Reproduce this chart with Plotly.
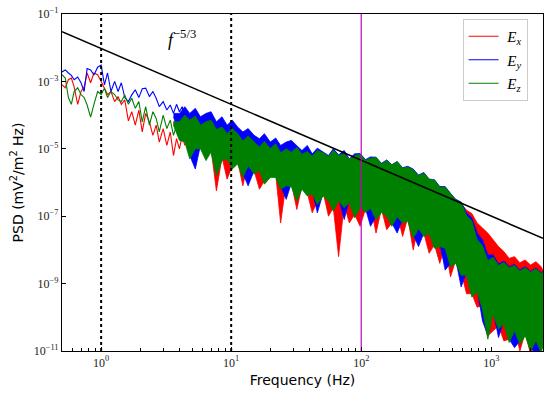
import numpy as np
import plotly.graph_objects as go

# ---------------- data ----------------
series_names = ["<i>E</i><sub><i>x</i></sub>", "<i>E</i><sub><i>y</i></sub>", "<i>E</i><sub><i>z</i></sub>"]
series_colors = ["#ff0000", "#0000ff", "#008000"]

# low-frequency part, individual spectral points (Hz) and log10 PSD
freq_low = [0.50, 0.53, 0.56, 0.59, 0.62, 0.66, 0.70, 0.74, 0.78, 0.83, 0.88, 0.94, 1.0, 1.06,
            1.12, 1.19, 1.27, 1.35, 1.43, 1.52, 1.62, 1.72, 1.83, 1.95, 2.07, 2.2, 2.35, 2.5,
            2.65, 2.8, 3.0, 3.2, 3.4, 3.6, 3.8, 4.0, 4.2, 4.4]
ex_low_log10 = [-3.1, -3.19, -2.95, -2.9, -3.16, -3.68, -3.3, -3.16, -2.75, -3.04, -2.75, -2.8, -3.0,
                -3.19, -3.39, -3.3, -3.6, -3.45, -3.68, -3.55, -4.17, -3.9, -4.3, -3.85, -4.5, -3.95,
                -4.2, -4.6, -4.3, -4.8, -4.4, -4.9, -4.5, -5.2, -4.7, -5.0, -4.6, -4.9]
ey_low_log10 = [-2.72, -2.66, -2.75, -2.82, -2.95, -2.87, -3.04, -3.3, -2.62, -2.66, -2.81, -2.58, -2.52,
                -3.1, -2.75, -3.3, -3.0, -3.3, -3.04, -3.48, -3.6, -3.4, -3.25, -3.48, -3.22, -3.2,
                -3.45, -3.3, -3.5, -3.75, -3.6, -3.85, -3.7, -3.95, -3.68, -3.9, -3.75, -4.0]
ez_low_log10 = [-2.8, -2.9, -3.48, -3.68, -3.3, -3.19, -3.39, -3.48, -3.7, -4.06, -3.68, -3.3, -3.39,
                -3.2, -3.48, -3.3, -3.39, -3.55, -3.6, -3.4, -3.68, -3.5, -3.8, -3.6, -4.2, -3.75,
                -4.3, -3.9, -4.1, -4.5, -4.0, -4.4, -4.15, -4.6, -4.3, -4.5, -4.2, -4.7]

# dense part: upper / lower edges of the noisy band (Hz, log10 PSD)
freq_band = [3.6, 4, 4.4, 4.8, 5.3, 5.8, 6.4, 7, 7.7, 8.5, 9.3, 10.2, 11.2, 12.3, 13.5, 15, 16.5,
             18, 20, 22, 24, 26.5, 29, 32, 35, 38.5, 42, 46, 51, 56, 61, 67, 74, 81, 89, 98, 108,
             118, 130, 143, 157, 172, 189, 208, 228, 251, 276, 303, 333, 366, 402, 442, 486, 534,
             587, 645, 709, 779, 856, 941, 1034, 1137, 1250, 1374, 1510, 1660, 1825, 2006, 2205,
             2424, 2500]
ex_hi_log10 = [-4.2, -4.3, -4.15, -4.3, -4.2, -4.4, -4.3, -4.35, -4.55, -4.45, -4.65, -4.5, -4.65,
               -4.85, -4.75, -4.9, -5.0, -4.9, -5.1, -4.95, -5.2, -5.1, -5.2, -5.1, -5.25, -5.18,
               -5.3, -5.15, -5.22, -5.32, -5.15, -5.3, -5.24, -5.4, -5.3, -5.26, -5.42, -5.36,
               -5.35, -5.52, -5.43, -5.56, -5.47, -5.65, -5.62, -5.7, -5.86, -5.8, -5.96, -6.0,
               -6.2, -6.2, -6.38, -6.55, -6.62, -6.82, -6.92, -7.2, -7.35, -7.5, -7.7, -7.9, -8.05,
               -8.25, -8.2, -8.38, -8.3, -8.45, -8.35, -8.5, -8.62]
ex_lo_log10 = [-4.25, -4.7, -4.7, -5.2, -4.9, -4.9, -5.25, -5.0, -6.25, -5.25, -5.9, -5.5, -5.35,
               -6.1, -5.4, -5.65, -6.2, -5.95, -5.75, -5.75, -7.2, -6.0, -6.02, -6.8, -6.1, -6.3,
               -6.9, -6.55, -6.3, -7.0, -6.75, -8.2, -6.65, -7.2, -6.95, -7.3, -6.78, -6.67, -7.5,
               -6.79, -7.4, -7.2, -6.92, -7.6, -7.05, -8.0, -7.27, -7.5, -8.1, -7.85, -8.4, -7.85,
               -8.8, -8.3, -8.65, -9.3, -9.3, -9.7, -9.65, -10.55, -10.4, -10.25, -10.7, -10.65,
               -10.3, -11.0, -10.45, -11.1, -10.6, -10.95, -10.75]
ey_hi_log10 = [-3.95, -3.95, -3.75, -3.95, -3.8, -4.05, -3.95, -3.9, -4.2, -4.05, -4.3, -4.15, -4.35,
               -4.5, -4.4, -4.6, -4.7, -4.55, -4.8, -4.68, -4.9, -4.8, -4.75, -4.9, -5.05, -4.9,
               -5.15, -4.98, -5.1, -5.2, -5.0, -5.18, -5.05, -5.3, -5.15, -5.14, -5.32, -5.24,
               -5.25, -5.43, -5.33, -5.47, -5.38, -5.56, -5.52, -5.6, -5.78, -5.7, -5.9, -5.92,
               -6.12, -6.12, -6.32, -6.5, -6.58, -6.9, -7.05, -7.5, -7.7, -8.15, -8.15, -8.42,
               -8.33, -8.5, -8.43, -8.6, -8.5, -8.64, -8.54, -8.68, -8.64]
ey_lo_log10 = [-4.05, -4.6, -4.7, -5.2, -5.6, -4.9, -5.25, -5.0, -5.7, -5.25, -5.2, -5.5, -5.35,
               -5.75, -6.1, -5.65, -5.55, -5.95, -5.75, -5.75, -6.1, -6.5, -6.02, -6.45, -6.1, -6.3,
               -6.24, -6.9, -6.3, -6.45, -6.75, -6.44, -7.1, -6.5, -6.95, -6.65, -6.78, -7.3, -7.0,
               -6.79, -6.9, -7.2, -7.5, -7.1, -7.05, -7.55, -7.9, -7.5, -7.42, -7.85, -7.8, -8.6,
               -8.4, -8.3, -9.1, -8.65, -9.3, -9.15, -10.1, -10.55, -9.8, -10.6, -10.1, -10.65,
               -10.9, -10.7, -10.45, -10.9, -11.1, -10.95, -10.75]
ez_hi_log10 = [-4.2, -4.2, -4.0, -4.15, -4.03, -4.3, -4.2, -4.15, -4.43, -4.35, -4.55, -4.4, -4.55,
               -4.77, -4.62, -4.78, -4.95, -4.78, -4.99, -4.85, -5.12, -5.0, -5.1, -4.96, -5.16,
               -5.08, -5.22, -5.05, -5.12, -5.23, -5.05, -5.2, -5.14, -5.32, -5.2, -5.16, -5.34,
               -5.28, -5.25, -5.45, -5.35, -5.48, -5.38, -5.58, -5.54, -5.62, -5.8, -5.72, -5.9,
               -5.93, -6.14, -6.14, -6.33, -6.52, -6.6, -6.98, -7.14, -7.7, -7.87, -8.32, -8.22,
               -8.46, -8.37, -8.53, -8.46, -8.63, -8.53, -8.66, -8.56, -8.7, -8.66]
ez_lo_log10 = [-4.3, -4.75, -4.8, -5.3, -5.0, -5.0, -5.35, -5.1, -5.8, -5.35, -5.3, -5.6, -5.45,
               -5.85, -5.5, -5.75, -5.65, -6.05, -5.85, -5.85, -6.2, -6.1, -6.12, -6.55, -6.2, -6.4,
               -6.34, -6.65, -6.4, -6.55, -6.85, -6.54, -6.75, -6.6, -7.05, -6.75, -6.88, -6.77,
               -7.1, -6.89, -7.0, -7.3, -7.02, -7.2, -7.15, -7.65, -7.37, -7.6, -7.52, -7.95, -7.9,
               -7.95, -8.5, -8.4, -8.75, -8.75, -9.4, -9.25, -9.75, -10.65, -9.9, -10.35, -10.2,
               -10.75, -10.4, -10.8, -10.55, -11.0, -10.7, -11.05, -10.85]

# f^{-5/3} reference line end points
ref_freq = [0.5, 2500]
ref_psd = [3.0e-2, 2.2e-8]

# vertical marker lines
dotted_freqs = [1, 10]
magenta_freq = 100

# axis ticks
x_tickvals = [1, 10, 100, 1000]
x_ticktext = ["10<sup>0</sup>", "10<sup>1</sup>", "10<sup>2</sup>", "10<sup>3</sup>"]
y_tickvals = [1e-1, 1e-3, 1e-5, 1e-7, 1e-9, 1e-11]
y_ticktext = ["10<sup>−1</sup>", "10<sup>−3</sup>", "10<sup>−5</sup>", "10<sup>−7</sup>",
              "10<sup>−9</sup>", "10<sup>−11</sup>"]
x_range = [0.5, 2500]
y_range = [1e-11, 1e-1]

# ---------------- figure ----------------
low_sets = [ex_low_log10, ey_low_log10, ez_low_log10]
hi_sets = [ex_hi_log10, ey_hi_log10, ez_hi_log10]
lo_sets = [ex_lo_log10, ey_lo_log10, ez_lo_log10]

fig = go.Figure()
for name, color, low, hi, lo in zip(series_names, series_colors, low_sets, hi_sets, lo_sets):
    grp = name
    band_x = list(freq_band) + list(freq_band[::-1])
    band_y = np.power(10.0, np.array(list(hi) + list(lo[::-1])))
    fig.add_trace(go.Scatter(x=band_x, y=band_y, mode="lines", fill="toself",
                             fillcolor=color, line=dict(color=color, width=0.8),
                             legendgroup=grp, showlegend=False, hoverinfo="skip"))
    fig.add_trace(go.Scatter(x=freq_low, y=np.power(10.0, np.array(low)), mode="lines",
                             line=dict(color=color, width=1.1), name="&nbsp;" + name,
                             legendgroup=grp, showlegend=True))

fig.add_trace(go.Scatter(x=ref_freq, y=ref_psd, mode="lines",
                         line=dict(color="black", width=1.6), showlegend=False))
for fv in dotted_freqs:
    fig.add_trace(go.Scatter(x=[fv, fv], y=y_range, mode="lines",
                             line=dict(color="black", width=2, dash="dot"), showlegend=False))
fig.add_trace(go.Scatter(x=[magenta_freq, magenta_freq], y=y_range, mode="lines",
                         line=dict(color="#bf00bf", width=1.2), showlegend=False))

fig.add_annotation(x=np.log10(4.2), y=np.log10(1.9e-2), xref="x", yref="y",
                   text="<i>f</i><sup>−5/3</sup>", showarrow=False,
                   font=dict(family="Liberation Serif", size=18, color="black"))

minor_x = [m * 10.0 ** d for d in range(-1, 4) for m in range(2, 10)
           if x_range[0] <= m * 10.0 ** d <= x_range[1]]

axis_common = dict(showline=True, linecolor="black", linewidth=1.2, mirror=True,
                   showgrid=False, zeroline=False, ticks="inside", tickcolor="black",
                   tickfont=dict(family="Liberation Serif", size=12, color="#222"))

fig.update_xaxes(type="log", range=[np.log10(x_range[0]), np.log10(x_range[1])],
                 tickvals=x_tickvals, ticktext=x_ticktext, ticklen=4, tickwidth=1,
                 minor=dict(tickvals=minor_x, ticks="inside", ticklen=2.5, tickcolor="black"),
                 title=dict(text="Frequency (Hz)", font=dict(family="DejaVu Sans", size=14, color="black"),
                            standoff=6),
                 **axis_common)
fig.update_yaxes(type="log", range=[np.log10(y_range[0]), np.log10(y_range[1])],
                 tickvals=y_tickvals, ticktext=y_ticktext, ticklen=4, tickwidth=1,
                 title=dict(text="PSD (mV<sup>2</sup>/m<sup>2</sup> Hz)",
                            font=dict(family="DejaVu Sans", size=14, color="black"), standoff=6),
                 **axis_common)

fig.update_layout(
    width=550, height=394,
    margin=dict(l=62, r=6, t=8, b=43),
    paper_bgcolor="white", plot_bgcolor="white",
    legend=dict(x=0.968, y=0.985, xanchor="right", yanchor="top",
                bgcolor="rgba(255,255,255,0.9)", bordercolor="#cccccc", borderwidth=1,
                font=dict(family="Liberation Serif", size=15, color="black"),
                traceorder="grouped", tracegroupgap=1, itemwidth=30),
    showlegend=True,
)

fig.write_html("out.html", config={"displayModeBar": False},
               post_script="document.body.style.margin='0px';")
